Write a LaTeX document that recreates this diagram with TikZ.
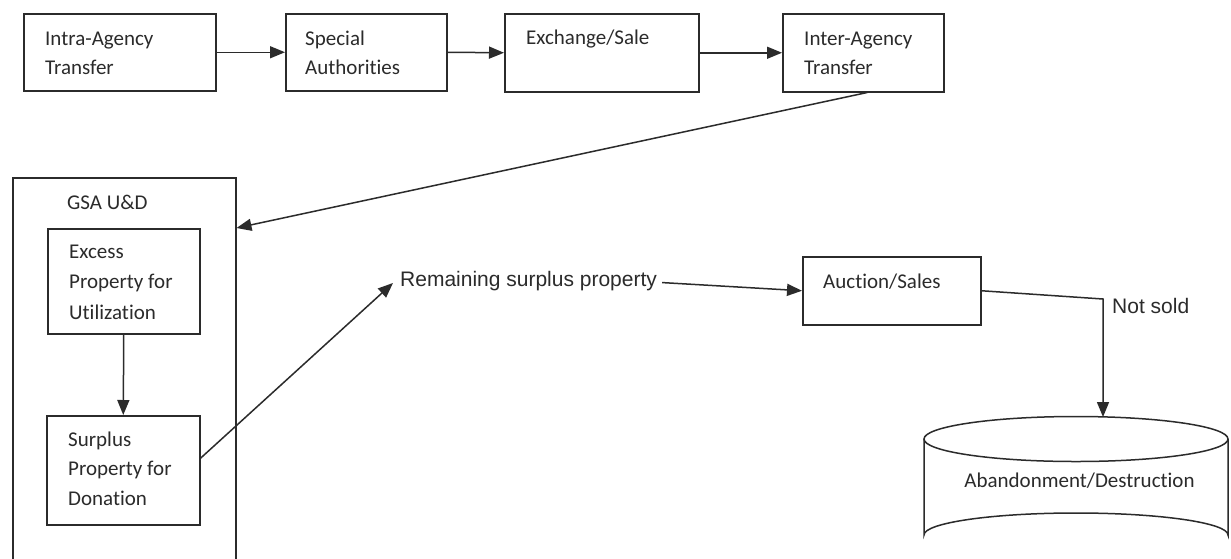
\documentclass[tikz,border=0pt]{standalone}
\usepackage{fontspec}
\setmainfont{Carlito}[Ligatures={NoCommon}]
\newfontfamily\arialf{Liberation Sans}
\usetikzlibrary{arrows.meta,calc}
\definecolor{ink}{HTML}{2B2B2B}
\begin{document}
\begin{tikzpicture}[x=1pt,y=-1pt,
  box/.style={draw=ink, line width=1.5pt, anchor=north west, inner sep=0pt},
  txt/.style={anchor=base west, inner sep=0pt, text=ink, font=\fontsize{21}{29}\selectfont},
  atxt/.style={anchor=base west, inner sep=0pt, text=ink, font=\arialf\fontsize{21}{25}\selectfont},
  arr/.style={draw=ink, line width=1.5pt, -{Triangle[length=15pt,width=12pt]}},
  ln/.style={draw=ink, line width=1.5pt}]
\useasboundingbox (0,0) rectangle (1231,558);
\fill[white] (0,0) rectangle (1231,558);

% top row
\node[box, minimum width=192pt, minimum height=77pt] (intra) at (23,13) {};
\node[box, minimum width=161pt, minimum height=77pt] (special) at (285,13) {};
\node[box, minimum width=194pt, minimum height=78pt] (exchange) at (504,13) {};
\node[box, minimum width=161pt, minimum height=78pt] (inter) at (782,13) {};
\node[txt] (intraT) at (45,45) {\vtop{\hbox{Intra-Agency}\hbox{Transfer}}};
\node[txt] (specialT) at (305,45) {\vtop{\hbox{Special}\hbox{Authorities}}};
\node[txt] (exchangeT) at (526,44) {Exchange/Sale};
\node[txt] (interT) at (804,45) {\vtop{\hbox{Inter-Agency}\hbox{Transfer}}};

\draw[arr] (intra.east) -- (special.west);
\draw[arr] (special.east) -- (exchange.west);
\draw[arr] (exchange.east) -- (inter.west);

% GSA block
\node[box, minimum width=223pt, minimum height=400pt] (gsa) at (12,177) {};
\node[txt] (gsaT) at (67,209) {GSA U\&D};
\node[box, minimum width=152pt, minimum height=105pt] (excess) at (47,228) {};
\node[txt, font=\fontsize{21}{30.5}\selectfont] (excessT) at (69,258) {\vtop{\hbox{Excess}\hbox{Property for}\hbox{Utilization}}};
\node[box, minimum width=153pt, minimum height=109pt] (surplus) at (46,415) {};
\node[txt, font=\fontsize{21}{29.5}\selectfont] (surplusT) at (68,446) {\vtop{\hbox{Surplus}\hbox{Property for}\hbox{Donation}}};

\draw[arr] ($(inter.south)+(4,0)$) -- (gsa.east |- excess.north);
\draw[arr] (excess.south) -- (surplus.north);

% remaining / auction
\node[atxt] (rem) at (400,286) {Remaining surplus property};
\node[box, minimum width=178pt, minimum height=68pt] (auction) at (802,256) {};
\node[txt] (auctionT) at (823,288) {Auction/Sales};
\node[atxt] (notsold) at (1112,313) {Not sold};

\draw[arr] ($(surplus.east)+(0,-12)$) -- ($(rem.west)+(-7,2.4)$);
\draw[arr] ($(rem.east)+(5,2)$) -- (auction.west);

% cylinder
\draw[ln, fill=white] (924,439) -- (924,535) arc[start angle=180, end angle=360, x radius=152, y radius=22] -- (1228,439);
\draw[ln] (1076,439) ellipse [x radius=152, y radius=22.5];
\coordinate (bend) at (1103,299);
\coordinate (cyltop) at (1103,417);
\node[anchor=base, inner sep=0pt, text=ink, font=\fontsize{21}{25}\selectfont] (abandon) at (1079.5,487) {Abandonment/Destruction};
\draw[arr] (auction.east) -- (bend) -- (cyltop);
\end{tikzpicture}
\end{document}
